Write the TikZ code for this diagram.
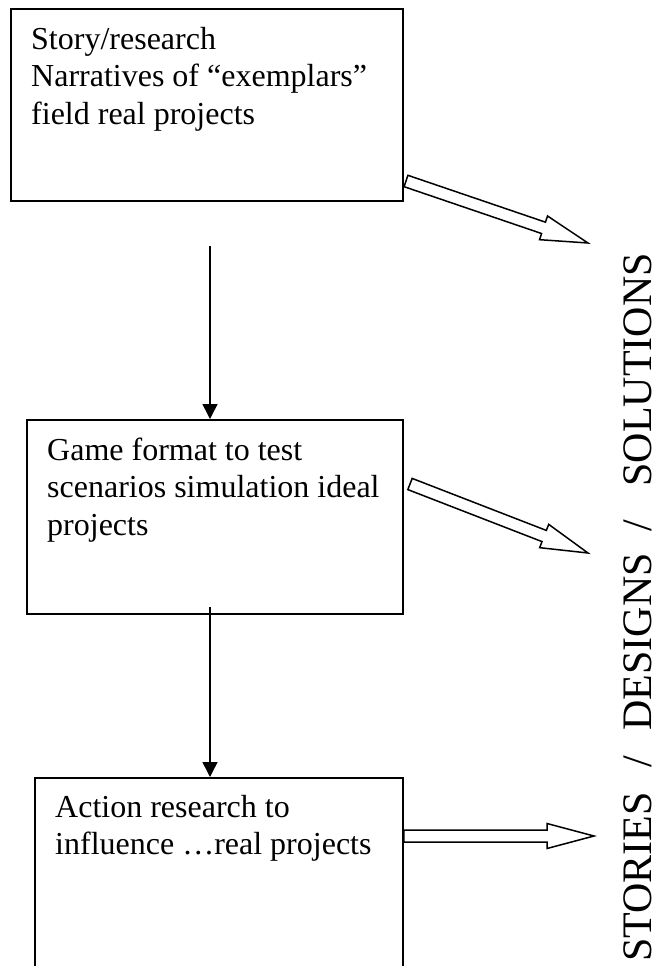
\documentclass[tikz,border=0pt]{standalone}
\usepackage{fontspec}
\setmainfont{Liberation Serif}
\usetikzlibrary{calc,arrows.meta}

% Outlined block arrow from #1 (tail centre) to #2 (tip)
\newcommand\hollowarrow[2]{%
  \coordinate (hb) at ($(#2)!47pt!(#1)$);
  \draw[hollow]
    ($(#1)!6pt!90:(#2)$) -- ($(hb)!6pt!90:(#2)$) -- ($(hb)!12.5pt!90:(#2)$)
    -- (#2)
    -- ($(hb)!12.5pt!-90:(#2)$) -- ($(hb)!6pt!-90:(#2)$) -- ($(#1)!6pt!-90:(#2)$)
    -- cycle;
}

\begin{document}
\begin{tikzpicture}[x=1pt,y=-1pt,
  box/.style={draw, line width=1.8pt, rectangle, inner sep=0pt, anchor=north west},
  label/.style={anchor=base west, inner sep=0pt, font=\fontsize{32}{37.5}\selectfont},
  flow/.style={line width=1.5pt, -{Triangle[width=15pt,length=15pt]}},
  hollow/.style={draw, line width=1.5pt, line join=miter, fill=white}]
\useasboundingbox (0,0) rectangle (654,966);
\clip (0,0) rectangle (654,966);

% the three stages
\node[box, minimum width=392pt, minimum height=192pt] (b1) at (10,8) {};
\node[box, minimum width=376pt, minimum height=194pt] (b2) at (26,419) {};
\node[box, minimum width=368pt, minimum height=260pt] (b3) at (34,777) {};

\node[label] (t1) at (31,49) {\parbox[t]{365pt}{\raggedright Story/research\\Narratives of “exemplars”\\field real projects}};
\node[label] (t2) at (47,460) {\parbox[t]{350pt}{\raggedright Game format to test\\scenarios simulation ideal\\projects}};
\node[label] (t3) at (55,817) {\parbox[t]{340pt}{\raggedright Action research to\\influence …real projects}};

% flow between stages
\coordinate (v1s) at (210,246);
\draw[flow] (v1s) -- (v1s |- b2.north);
\coordinate (v2s) at (210,607);
\draw[flow] (v2s) -- (v2s |- b3.north);

% outcome column
\node[anchor=base west, rotate=90, inner sep=0pt, font=\fontsize{42}{46}\selectfont] (side) at (651,962)
  {STORIES\hspace{25pt}/\hspace{25pt}DESIGNS\hspace{22pt}/\hspace{33pt}SOLUTIONS};

% block arrows towards the outcomes
\coordinate (h1s) at (406,181);
\coordinate (h1e) at (588,243);
\hollowarrow{h1s}{h1e}
\coordinate (h2s) at (410,484);
\coordinate (h2e) at (588,553);
\hollowarrow{h2s}{h2e}
\coordinate (h3s) at (b3.north east |- 0,836);
\coordinate (h3e) at (594,836);
\hollowarrow{h3s}{h3e}
\end{tikzpicture}
\end{document}
